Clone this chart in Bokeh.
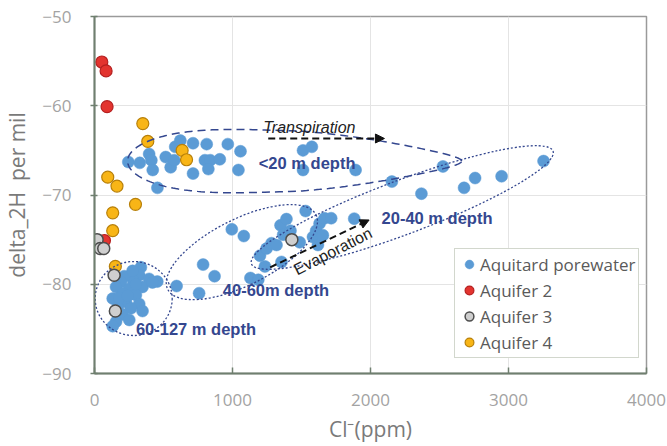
import numpy as np
from bokeh.plotting import figure
from bokeh.models import Label, Arrow, NormalHead, Legend, LegendItem, FixedTicker, Range1d
from bokeh.embed import file_html
from bokeh.resources import INLINE

# ---------------- data (Cl- ppm, delta 2H per mil) ----------------
aquitard_cl = [245, 328, 396, 412, 422, 456, 516, 552, 578, 585, 622, 714, 714, 813, 800, 839, 825,
               908, 966, 1058, 1043, 1511, 1575, 1511, 1892, 2155, 2369, 2525, 2678, 2758, 2950, 3254,
               595, 758, 787, 870, 995, 1082, 1130, 1187, 1199, 1235, 1247, 1283, 1319, 1348, 1367,
               1391, 1420, 1355, 1487, 1530, 1583, 1606, 1619, 1631, 1655, 1667, 1715, 1882,
               336, 324, 281, 216, 192, 396, 455, 156, 252, 348, 204, 300, 132, 228, 324, 168, 264,
               348, 204, 252, 156, 132, 180, 276, 420, 240, 300]
aquitard_d2h = [-66.3, -66.4, -65.4, -66.1, -67.2, -69.2, -65.75, -66.9, -66.1, -64.6, -63.9, -64.2, -67.6,
                -64.3, -66.1, -66.1, -67.1, -66.0, -64.3, -65.1, -67.2, -65.0, -64.6, -67.2, -67.2, -68.5,
                -69.85, -66.8, -69.2, -68.1, -67.9, -66.2,
                -80.2, -81.0, -77.8, -79.1, -73.85, -74.6, -79.3, -79.5, -76.8, -78.0, -76.0, -75.4, -75.6,
                -73.4, -74.45, -72.7, -74.0, -77.5, -75.3, -71.8, -74.7, -74.0, -75.6, -73.2, -74.5, -72.6,
                -72.6, -72.65,
                -78.1, -79.0, -79.6, -79.1, -79.75, -79.4, -79.7, -80.3, -80.5, -80.3, -81.05, -81.2, -81.6,
                -82.0, -82.2, -82.55, -82.7, -83.0, -83.4, -84.0, -84.2, -84.7, -81.5, -78.5, -79.8, -81.3,
                -80.0]

aquifer2_cl = [53, 84, 91, 72]
aquifer2_d2h = [-55.1, -56.1, -60.1, -75.1]

aquifer3_cl = [19, 41, 67, 142, 151, 1430]
aquifer3_d2h = [-75.0, -76.0, -76.0, -79.0, -83.0, -75.0]

aquifer4_cl = [350, 386, 96, 163, 297, 132, 132, 151, 635, 667]
aquifer4_d2h = [-62.0, -64.0, -68.0, -69.0, -71.05, -72.0, -74.0, -78.0, -65.0, -66.05]

x_ticks = [0, 1000, 2000, 3000, 4000]
y_ticks = [-90, -80, -70, -60, -50]

# ---------------- figure ----------------
p = figure(width=667, height=446, x_range=Range1d(0, 4000), y_range=Range1d(-90, -50),
           output_backend="svg", toolbar_location=None,
           min_border_left=90, min_border_right=21, min_border_top=16, min_border_bottom=73)
p.background_fill_color = "white"
p.border_fill_color = "white"
p.outline_line_color = "#9a9a9a"
p.outline_line_width = 1.5

p.xaxis.ticker = FixedTicker(ticks=x_ticks)
p.yaxis.ticker = FixedTicker(ticks=y_ticks)
p.xgrid.grid_line_color = "#e4e4e4"
p.ygrid.grid_line_color = "#e4e4e4"

for ax in (p.xaxis[0], p.yaxis[0]):
    ax.axis_line_color = "#6f7f6f"
    ax.axis_line_width = 2
    ax.major_tick_line_color = "#6f7f6f"
    ax.major_tick_line_width = 1.5
    ax.minor_tick_line_color = None
    ax.major_label_text_font = "Open Sans"
    ax.major_label_text_font_size = "17px"
    ax.major_label_text_color = "#a3a3a3"
    ax.axis_label_text_font = "Open Sans"
    ax.axis_label_text_font_size = "21px"
    ax.axis_label_text_font_style = "normal"
    ax.axis_label_text_color = "#7a7a7a"

p.xaxis.major_tick_in = 6
p.xaxis.major_tick_out = 0
p.xaxis.major_label_standoff = 20
p.xaxis.axis_label = "Cl\u207b(ppm)"
p.xaxis.axis_label_standoff = 6

p.yaxis.major_tick_in = 3
p.yaxis.major_tick_out = 4
p.yaxis.major_label_standoff = 19
p.yaxis.axis_label = "delta_2H\u00a0 per mil"
p.yaxis.axis_label_standoff = 8

# ---------------- points ----------------
r_aq = p.scatter(aquitard_cl, aquitard_d2h, size=12, fill_color="#5b9bd5", line_color="#5b9bd5", line_width=0.5)
r_a2 = p.scatter(aquifer2_cl, aquifer2_d2h, size=12, fill_color="#e3342f", line_color="#b52020", line_width=1.2)
r_a4 = p.scatter(aquifer4_cl, aquifer4_d2h, size=12, fill_color="#f8b516", line_color="#b8800a", line_width=1.2)
r_a3 = p.scatter(aquifer3_cl, aquifer3_d2h, size=12, fill_color="#cfcfcf", line_color="#4d4d4d", line_width=1.5)

# ---------------- grouping outlines ----------------
ecol = "#34478f"
# <20 m depth (dashed, teardrop-like)
t = np.linspace(0, 2 * np.pi, 240)
u = np.cos(t)
ux = np.where(u < 0, -np.abs(u) ** 0.7, u)
half = 4.0 * (1 - 0.6 * ((u + 1) / 2) ** 2)
tx = 1450 + 1210 * ux
ty = -66.2 + half * np.sin(t)
p.line(tx, ty, line_color=ecol, line_dash="8 5", line_width=1.5)

# 20-40 m, 40-60 m, 60-127 m (dotted ellipses, drawn in screen units)
p.ellipse(x=[2230, 1068, 284], y=[-71.4, -76.4, -81.6], width=[322, 166, 77], height=[54, 66, 74],
          angle=[0.358, 0.466, 0.0], width_units="screen", height_units="screen",
          fill_color=None, line_color=ecol, line_dash="2 2", line_width=1.3)

# ---------------- arrows ----------------
p.add_layout(Arrow(end=NormalHead(size=9, fill_color="#111111", line_color="#111111"),
                   x_start=1259, y_start=-63.67, x_end=2101, y_end=-63.67,
                   line_color="#111111", line_width=2, line_dash="7 4"))
p.add_layout(Arrow(end=NormalHead(size=9, fill_color="#111111", line_color="#111111"),
                   x_start=1273, y_start=-78.1, x_end=1990, y_end=-72.8,
                   line_color="#111111", line_width=2, line_dash="7 4"))

# ---------------- labels ----------------
def lab(x, y, text, **kw):
    opts = dict(text_font="Liberation Sans", text_font_size="16.5px", text_font_style="bold",
                text_color=ecol, text_baseline="middle", text_align="left")
    opts.update(kw)
    p.add_layout(Label(x=x, y=y, text=text, **opts))

lab(1190, -66.36, "<20 m depth")
lab(2080, -72.63, "20-40 m depth")
lab(930, -80.7, "40-60m depth")
lab(300, -84.96, "60-127 m depth")
lab(1223, -62.44, "Transpiration", text_font_style="italic", text_color="#222222", text_font_size="16px")
lab(1727, -76.3, "Evaporation", text_font_style="normal", text_color="#222222", text_font_size="16px",
    text_align="center", angle=0.47)

# ---------------- legend ----------------
legend = Legend(items=[LegendItem(label="Aquitard porewater", renderers=[r_aq]),
                       LegendItem(label="Aquifer 2", renderers=[r_a2]),
                       LegendItem(label="Aquifer 3", renderers=[r_a3]),
                       LegendItem(label="Aquifer 4", renderers=[r_a4])],
                location=(360, 15), orientation="vertical")
legend.label_text_font = "Open Sans"
legend.label_text_font_size = "17px"
legend.label_text_color = "#5a5a5a"
legend.glyph_width = 22
legend.glyph_height = 24
legend.label_height = 24
legend.spacing = 2
legend.padding = 3
legend.margin = 0
legend.label_standoff = 0
legend.border_line_color = "#a6b09c"
legend.border_line_width = 1.5
legend.background_fill_color = "white"
legend.background_fill_alpha = 1.0
p.add_layout(legend, "center")

open("out.html", "w").write(file_html(p, INLINE))
